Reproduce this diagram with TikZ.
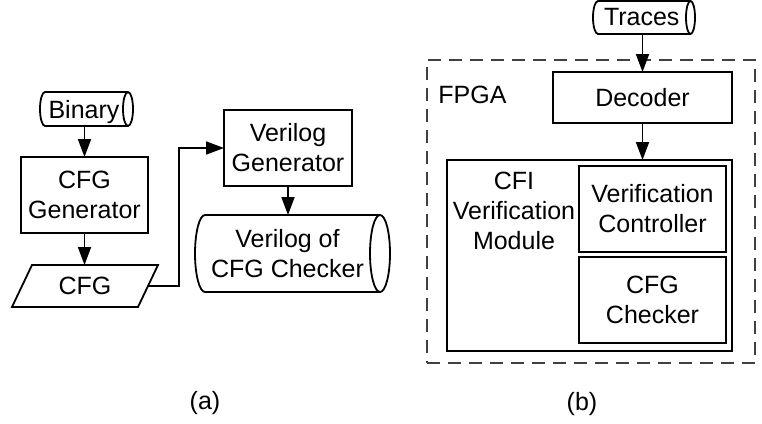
\documentclass[tikz,border=0pt]{standalone}
\usepackage{fontspec}
\setmainfont{Liberation Sans}
\usetikzlibrary{arrows.meta,calc}
\begin{document}
\begin{tikzpicture}[x=1pt,y=-1pt,
  txt/.style={font=\fontsize{25}{30}\selectfont, align=center, inner sep=0pt, outer sep=0pt},
  box/.style={txt, draw, line width=1.8pt, rectangle},
  area/.style={txt, rectangle, draw=none},
  outline/.style={line width=1.8pt, line join=miter},
  arr/.style={line width=1.8pt, -{Triangle[length=18pt,width=13pt]}},
  fpgabox/.style={draw=black!75, line width=1.4pt, dash pattern=on 13pt off 8pt, inner sep=0pt, outer sep=0pt},
]
\useasboundingbox (0,0) rectangle (762,423);

% ---------- (a) ----------
\node[area, minimum width=88pt, minimum height=34pt, text depth=0pt] (binary) at (84,109) {Binary};
\draw[outline] (binary.north east) -- ($(binary.north west)+(5,0)$)
  arc[start angle=270, end angle=90, x radius=5, y radius=17] -- (binary.south east);
\draw[outline] (binary.east) ellipse[x radius=5, y radius=17];

\node[box, minimum width=127pt, minimum height=76pt] (cfggen) at (84.5,195) {CFG\\Generator};

\node[area, minimum width=146pt, minimum height=42pt] (cfg) at (85,286) {CFG};
\draw[outline] ($(cfg.north west)+(20,0)$) -- (cfg.north east)
  -- ($(cfg.south east)+(-20,0)$) -- (cfg.south west) -- cycle;

\node[box, minimum width=128pt, minimum height=76pt] (vgen) at (288,148) {Verilog\\Generator};

\node[area, minimum width=185pt, minimum height=77pt] (vcheck) at (287.5,253.5) {Verilog of\\CFG Checker};
\draw[outline] (vcheck.north east) -- ($(vcheck.north west)+(10,0)$)
  arc[start angle=270, end angle=90, x radius=10, y radius=38.5] -- (vcheck.south east);
\draw[outline] (vcheck.east) ellipse[x radius=10, y radius=38.5];

\draw[arr] (cfggen.north |- binary.south) -- (cfggen.north);
\draw[arr] (cfggen.south) -- (cfggen.south |- cfg.north);
\draw[arr] ($(cfg.east)+(-10,0)$) -- ++(31,0) |- (vgen.west);
\draw[arr] (vgen.south) -- (vgen.south |- vcheck.north);

\node[txt] (capa) at (205,403) {(a)};

% ---------- (b) ----------
\node[area, minimum width=97.5pt, minimum height=33pt] (traces) at (641.75,17.5) {Traces};
\draw[outline] (traces.north east) -- ($(traces.north west)+(5,0)$)
  arc[start angle=270, end angle=90, x radius=5, y radius=16.5] -- (traces.south east);
\draw[outline] (traces.east) ellipse[x radius=4.5, y radius=16.5];

\node[fpgabox, minimum width=328pt, minimum height=303pt] (fpga) at (591,211.5) {};
\node[txt] (fpgalabel) at (472.5,95) {FPGA};

\node[box, minimum width=179pt, minimum height=51pt] (decoder) at (642.5,97.5) {Decoder};

\node[box, minimum width=285pt, minimum height=191pt] (cfi) at (589.5,255.5) {};
\node[txt] (cfilabel) at (514,211) {CFI\\Verification\\Module};
\node[box, minimum width=147pt, minimum height=86pt] (vctrl) at (652.5,209) {Verification\\Controller};
\node[box, minimum width=147pt, minimum height=86pt] (cfgchk) at (652.5,300) {CFG\\Checker};

\draw[arr] (decoder.north |- traces.south) -- (decoder.north);
\draw[arr] (decoder.south) -- (decoder.south |- cfi.north);

\node[txt] (capb) at (582,404) {(b)};
\end{tikzpicture}
\end{document}
